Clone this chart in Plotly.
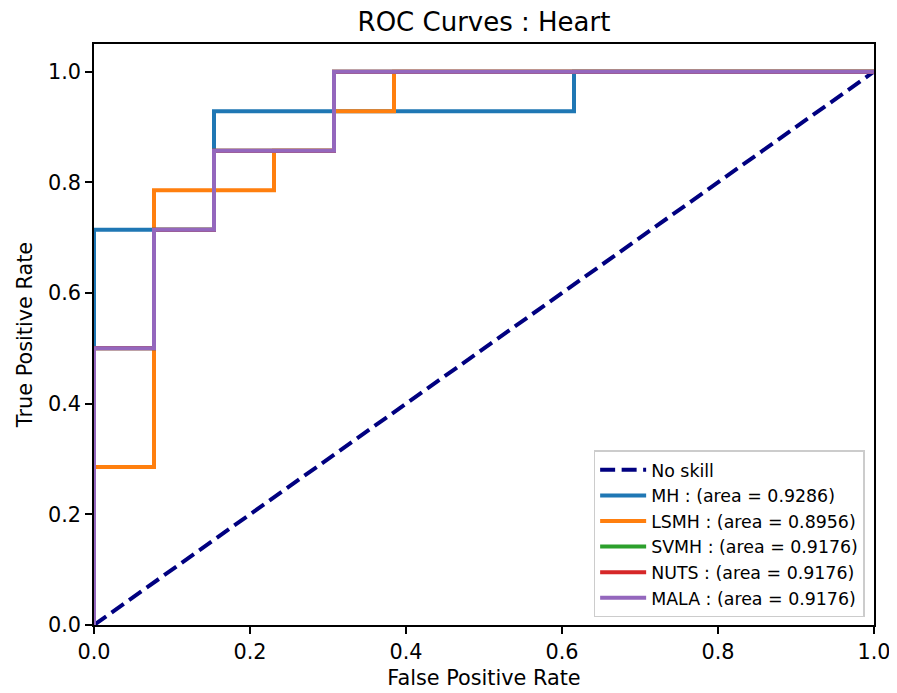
import plotly.graph_objects as go

# Data (FPR steps in 1/13, TPR steps in 1/14)
noskill_x = [0, 1]
noskill_y = [0, 1]

mh_fpr = [0, 0, 2/13, 2/13, 8/13, 8/13, 1]
mh_tpr = [0, 10/14, 10/14, 13/14, 13/14, 1, 1]

lsmh_fpr = [0, 0, 1/13, 1/13, 3/13, 3/13, 4/13, 4/13, 5/13, 5/13, 1]
lsmh_tpr = [0, 4/14, 4/14, 11/14, 11/14, 12/14, 12/14, 13/14, 13/14, 1, 1]

mala_fpr = [0, 0, 1/13, 1/13, 2/13, 2/13, 4/13, 4/13, 1]
mala_tpr = [0, 7/14, 7/14, 10/14, 10/14, 12/14, 12/14, 1, 1]

series_names = ["MH : (area = 0.9286)", "LSMH : (area = 0.8956)", "SVMH : (area = 0.9176)",
                "NUTS : (area = 0.9176)", "MALA : (area = 0.9176)"]
series_colors = ["#1f77b4", "#ff7f0e", "#2ca02c", "#d62728", "#9467bd"]
series_x = [mh_fpr, lsmh_fpr, mala_fpr, mala_fpr, mala_fpr]
series_y = [mh_tpr, lsmh_tpr, mala_tpr, mala_tpr, mala_tpr]

tick_vals = [0, 0.2, 0.4, 0.6, 0.8, 1.0]
tick_text = ["0.0", "0.2", "0.4", "0.6", "0.8", "1.0"]

fig = go.Figure()
fig.add_trace(go.Scatter(x=noskill_x, y=noskill_y, mode="lines", name="No skill",
                         line=dict(color="#000080", width=4, dash="15px,6.5px")))
for nm, c, xs, ys in zip(series_names, series_colors, series_x, series_y):
    fig.add_trace(go.Scatter(x=xs, y=ys, mode="lines", name=nm,
                             line=dict(color=c, width=4)))

axis_common = dict(showgrid=False, zeroline=False, showline=True, linecolor="black",
                   linewidth=1.7, mirror=True, ticks="outside", ticklen=7, tickwidth=1.7,
                   tickcolor="black", tickfont=dict(size=20.8, color="black"))

fig.update_layout(
    width=897, height=693,
    plot_bgcolor="white", paper_bgcolor="white",
    font=dict(family="DejaVu Sans", color="black"),
    margin=dict(l=86, r=31, t=36, b=76),
    title=dict(text="ROC Curves : Heart", xref="paper", x=0.5, xanchor="center",
               yref="container", y=1 - 14 / 693, yanchor="middle",
               font=dict(size=26)),
    xaxis=dict(range=[0, 1], tickvals=tick_vals, ticktext=tick_text,
               title=dict(text="False Positive Rate", font=dict(size=20.8), standoff=8), **axis_common),
    yaxis=dict(range=[0, 1.05], tickvals=tick_vals, ticktext=tick_text,
               title=dict(text="True Positive Rate", font=dict(size=20.8), standoff=10), **axis_common),
    legend=dict(x=0.988, y=0.013, xanchor="right", yanchor="bottom",
                bgcolor="rgba(255,255,255,0.8)", bordercolor="#cccccc", borderwidth=1.5,
                font=dict(size=17.4), itemwidth=46),
    showlegend=True,
)

fig.write_html("out.html")
